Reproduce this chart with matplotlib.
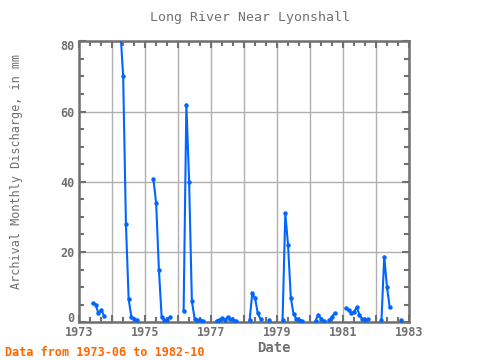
import numpy as np
import matplotlib.pyplot as plt
from matplotlib.ticker import MultipleLocator, FuncFormatter
from matplotlib.transforms import ScaledTranslation

# Caudal mensual (mm), tramos continuos: (año, mes inicial, valores)
seg_year = [1973, 1974, 1975, 1976, 1977, 1978, 1978, 1979, 1980, 1980, 1981, 1982, 1982]
seg_month = [6, 4, 4, 3, 3, 3, 10, 3, 3, 8, 2, 3, 10]
seg_values = [
    [5.4, 5.0, 2.5, 3.5, 1.9],
    [83.0, 70.0, 28.0, 6.5, 1.5, 1.0, 0.5],
    [40.7, 34.0, 15.0, 1.5, 0.5, 0.5, 1.5],
    [3.3, 62.0, 40.0, 6.0, 1.0, 0.5, 0.6, 0.4],
    [0.4, 0.7, 1.1, 0.7, 1.4, 1.0, 0.5, 0.4],
    [0.5, 8.4, 6.8, 2.5, 0.9],
    [0.6],
    [0.5, 31.0, 22.0, 7.0, 2.3, 1.0, 0.6, 0.4],
    [0.4, 2.1, 1.0, 0.4],
    [0.5, 1.6, 2.6],
    [4.0, 3.4, 2.6, 3.0, 4.2, 2.1, 0.9, 0.6, 0.9],
    [0.6, 18.7, 10.0, 4.2],
    [0.7],
]

grey = '#707070'
blue = '#0066ff'

fig = plt.figure(figsize=(4.8, 3.6), dpi=100)
ax = fig.add_axes([0.165, 0.105, 0.687, 0.78])

t_all, v_all = [], []
for y, m, vals in zip(seg_year, seg_month, seg_values):
    t = y + (m - 1 + np.arange(len(vals))) / 12.0
    t_all += list(t) + [np.nan]
    v_all += list(vals) + [np.nan]

ax.plot(t_all, v_all, color=blue, lw=1.5, marker='o', ms=2.2, zorder=3)

ax.set_xlim(1973, 1983)
ax.set_ylim(0, 80)
ax.xaxis.set_major_locator(MultipleLocator(1))
ax.xaxis.set_minor_locator(MultipleLocator(1 / 3))
ax.xaxis.set_major_formatter(FuncFormatter(lambda x, p: f"{int(round(x))}" if int(round(x)) % 2 == 1 else ""))
ax.yaxis.set_major_locator(MultipleLocator(20))
ax.yaxis.set_minor_locator(MultipleLocator(5))

ax.grid(True, which='major', color='#b0b0b0', lw=1.0)
ax.tick_params(which='both', direction='in', top=True, right=True, color=grey, width=1.5,
               labelcolor=grey, labelsize=8.5)
ax.tick_params(axis='x', which='major', pad=3)
ax.tick_params(which='major', length=5)
ax.tick_params(which='minor', length=3.5)
for s in ax.spines.values():
    s.set_color(grey)
    s.set_linewidth(1.8)
for lab in ax.get_xticklabels() + ax.get_yticklabels():
    lab.set_family('DejaVu Sans Mono')
    lab.set_fontweight('bold')

# etiquetas extremas del eje y metidas dentro del marco, como en el original
for tk in ax.yaxis.get_major_ticks():
    v = tk.get_loc()
    if abs(v) < 1e-6:
        tk.label1.set_transform(tk.label1.get_transform() + ScaledTranslation(0, 5 / 100, fig.dpi_scale_trans))
    elif abs(v - 80) < 1e-6:
        tk.label1.set_transform(tk.label1.get_transform() + ScaledTranslation(0, -4 / 100, fig.dpi_scale_trans))

fig.text(250 / 480, 1 - 18 / 360, "Long River Near Lyonshall", ha='center', va='center',
         family='DejaVu Sans Mono', fontsize=9.5, color=grey)
fig.text(17 / 480, 1 - 171 / 360, "Archival Monthly Discharge, in mm", ha='center', va='center',
         rotation=90, family='DejaVu Sans Mono', fontsize=8.5, color=grey)
fig.text(274 / 480, 1 - 348 / 360, "Date", ha='center', va='center',
         family='DejaVu Sans Mono', fontsize=10, fontweight='bold', color=grey)
fig.text(5 / 480, 1 - 352 / 360, "Data from 1973-06 to 1982-10", ha='left', va='center',
         family='DejaVu Sans Mono', fontsize=8.5, fontweight='bold', color='#ff6600')

fig.savefig("out.png", dpi=100)
